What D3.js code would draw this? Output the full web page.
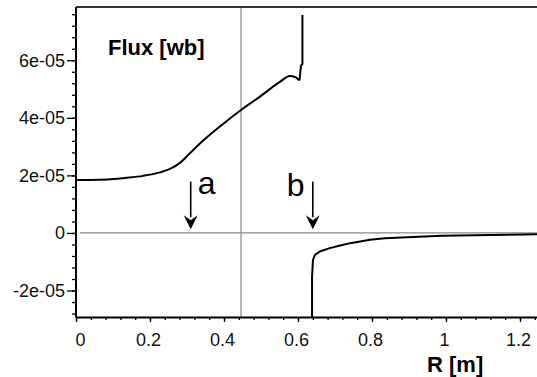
<!DOCTYPE html>
<html>
<head>
<meta charset="utf-8">
<script src="https://cdn.jsdelivr.net/npm/d3@7"></script>
<style>
  body { margin: 0; background: #fff; }
  svg { display: block; font-family: "Liberation Sans", Arial, sans-serif; }
  .tick text { font-size: 18px; fill: #111; }
</style>
</head>
<body>
<div id="chart"></div>
<script>
// flux curve, smooth rising part (r in m, flux in 1e-5 wb)
const riseR    = [0, 0.038, 0.0865, 0.132, 0.181, 0.227, 0.254, 0.281, 0.308, 0.335, 0.389, 0.446, 0.497, 0.551, 0.578, 0.592, 0.604];
const riseFlux = [1.844, 1.844, 1.861, 1.913, 1.983, 2.104, 2.226, 2.434, 2.771, 3.11, 3.7, 4.274, 4.736, 5.247, 5.455, 5.42, 5.299];
// jump near the coil edge
const jumpR    = [0.604, 0.608, 0.612, 0.612];
const jumpFlux = [5.299, 5.802, 5.872, 7.573];
// negative branch
const negR    = [0.638, 0.638, 0.6405, 0.646, 0.659, 0.686, 0.714, 0.741, 0.768, 0.795, 0.835, 0.895, 0.989, 1.168, 1.246];
const negFlux = [-3.2, -1.514, -0.934, -0.76, -0.646, -0.528, -0.4375, -0.354, -0.299, -0.24, -0.181, -0.146, -0.101, -0.066, -0.049];

const xTicks = [0, 0.2, 0.4, 0.6, 0.8, 1, 1.2];
const xTickLabels = ["0", "0.2", "0.4", "0.6", "0.8", "1", "1.2"];
const yTicks = [-2e-5, 0, 2e-5, 4e-5, 6e-5];
const yTickLabels = ["-2e-05", "0", "2e-05", "4e-05", "6e-05"];

const markerR = 0.446;           // vertical reference line
const arrowR = [0.31, 0.64];     // arrows a, b
const arrowNames = ["a", "b"];

const width = 537, height = 377;
const margin = { top: 7, right: 0, bottom: 60, left: 76 };

const svg = d3.select("#chart").append("svg")
    .attr("width", width)
    .attr("height", height);

const x = d3.scaleLinear().domain([0, 1.246]).range([margin.left, width - margin.right]);
const y = d3.scaleLinear().domain([-2.92e-5, 7.85e-5]).range([height - margin.bottom, margin.top]);

svg.append("defs").append("clipPath").attr("id", "clip")
    .append("rect")
    .attr("x", margin.left).attr("y", margin.top)
    .attr("width", width - margin.left - margin.right)
    .attr("height", height - margin.top - margin.bottom);

//Reference lines
svg.append("line")
    .attr("x1", x(0) + 4).attr("x2", width)
    .attr("y1", y(0)).attr("y2", y(0))
    .attr("stroke", "#8a8a8a").attr("stroke-width", 1.2);
svg.append("line")
    .attr("x1", x(markerR)).attr("x2", x(markerR))
    .attr("y1", margin.top).attr("y2", height - margin.bottom)
    .attr("stroke", "#8a8a8a").attr("stroke-width", 1.2);

//Curve
const smooth = d3.line()
    .x(d => x(d[0]))
    .y(d => y(d[1] * 1e-5))
    .curve(d3.curveMonotoneX);
const straight = d3.line()
    .x(d => x(d[0]))
    .y(d => y(d[1] * 1e-5));

const plot = svg.append("g").attr("clip-path", "url(#clip)");
[[riseR, riseFlux, smooth], [jumpR, jumpFlux, straight], [negR, negFlux, straight]].forEach(([rs, fs, gen]) => {
    plot.append("path")
        .datum(rs.map((r, i) => [r, fs[i]]))
        .attr("fill", "none")
        .attr("stroke", "#000")
        .attr("stroke-width", 2)
        .attr("stroke-linejoin", "round")
        .attr("d", gen);
});

//Axes
const minorX = d3.range(0, 1.25, 0.04);
const minorY = d3.range(-2.8e-5, 7.85e-5, 0.4e-5);

svg.append("g")
    .attr("transform", `translate(0,${height - margin.bottom})`)
    .call(d3.axisBottom(x).tickValues(minorX).tickSize(3).tickFormat(""))
    .call(g => g.select(".domain").remove())
    .selectAll("line").attr("stroke", "#000").attr("stroke-width", 1.3);

const xAxis = svg.append("g")
    .attr("transform", `translate(0,${height - margin.bottom})`)
    .call(d3.axisBottom(x).tickValues(xTicks).tickSize(5).tickPadding(8)
        .tickFormat((d, i) => xTickLabels[i]));
xAxis.select(".domain").attr("stroke-width", 2).attr("d", `M${margin.left},0.5H${width}`);
xAxis.selectAll("line").attr("stroke-width", 1.3);
xAxis.selectAll("text").attr("dy", "0.9em").attr("dx", (d, i) => i === 0 ? 4 : -2);

svg.append("g")
    .attr("transform", `translate(${margin.left},0)`)
    .call(d3.axisLeft(y).tickValues(minorY).tickSize(4).tickFormat(""))
    .call(g => g.select(".domain").remove())
    .selectAll("line").attr("stroke", "#000").attr("stroke-width", 1.3);

const yAxis = svg.append("g")
    .attr("transform", `translate(${margin.left},0)`)
    .call(d3.axisLeft(y).tickValues(yTicks).tickSize(9).tickPadding(2)
        .tickFormat((d, i) => yTickLabels[i]));
yAxis.select(".domain").attr("stroke-width", 2)
    .attr("d", `M0,${margin.top}V${height - margin.bottom}`);
yAxis.selectAll("line").attr("stroke-width", 1.3);

//Top frame line
svg.append("line")
    .attr("x1", margin.left).attr("x2", width)
    .attr("y1", margin.top).attr("y2", margin.top)
    .attr("stroke", "#333").attr("stroke-width", 2);

//Arrows
const arrowTop = 1.785e-5, arrowTip = 0.13e-5;
arrowR.forEach((r, i) => {
    const ax = x(r), y0 = y(arrowTop), y1 = y(arrowTip);
    svg.append("line")
        .attr("x1", ax).attr("x2", ax)
        .attr("y1", y0).attr("y2", y1 - 12)
        .attr("stroke", "#000").attr("stroke-width", 1.6);
    svg.append("path")
        .attr("d", `M${ax - 7},${y1 - 14}L${ax},${y1}L${ax + 7},${y1 - 14}L${ax},${y1 - 9}Z`)
        .attr("fill", "#000");
    svg.append("text")
        .attr("x", i === 0 ? ax + 7 : ax - 26)
        .attr("y", i === 0 ? y0 + 12 : y0 + 14)
        .attr("font-size", 32)
        .text(arrowNames[i]);
});

//Titles
svg.append("text")
    .attr("x", 108).attr("y", 55)
    .attr("font-size", 22).attr("font-weight", "bold")
    .text("Flux [wb]");
svg.append("text")
    .attr("x", 427).attr("y", 372)
    .attr("font-size", 22).attr("font-weight", "bold")
    .text("R [m]");
</script>
</body>
</html>
